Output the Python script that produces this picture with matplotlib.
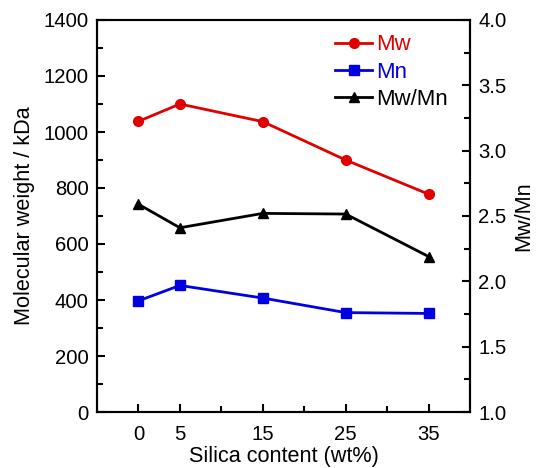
import matplotlib
matplotlib.use("Agg")
import matplotlib.pyplot as plt
from matplotlib.ticker import MultipleLocator, FixedLocator

plt.rcParams['font.family'] = ['Liberation Sans', 'DejaVu Sans']

silica = [0, 5, 15, 25, 35]
mw = [1038, 1100, 1037, 900, 778]
mn = [397, 452, 407, 355, 352]
pdi = [2.59, 2.41, 2.52, 2.515, 2.19]
xtick_labels = ['0', '5', '15', '25', '35']

fs_tick = 14.6
fs_label = 15.6
fs_leg = 15.9
fig = plt.figure(figsize=(5.41, 4.68), dpi=100)
ax = fig.add_axes([97/541, 1 - 412/468, (470-97)/541, (412-20)/468])
ax2 = ax.twinx()

l1, = ax.plot(silica, mw, color='#e00000', marker='o', ms=7, lw=2, label='Mw')
l2, = ax.plot(silica, mn, color='#0000e0', marker='s', ms=7, lw=2, label='Mn')
l3, = ax2.plot(silica, pdi, color='black', marker='^', ms=7, lw=2, label='Mw/Mn')

ax.set_xlim(-5, 40)
ax.set_ylim(0, 1400)
ax2.set_ylim(1.0, 4.0)

ax.xaxis.set_major_locator(FixedLocator(silica))
ax.set_xticklabels(xtick_labels)
ax.xaxis.set_minor_locator(FixedLocator([10, 20, 30]))
ax.yaxis.set_major_locator(MultipleLocator(200))
ax.yaxis.set_minor_locator(MultipleLocator(100))
ax2.yaxis.set_major_locator(MultipleLocator(0.5))
ax2.yaxis.set_minor_locator(MultipleLocator(0.25))
ax2.yaxis.set_major_formatter(matplotlib.ticker.FormatStrFormatter('%.1f'))

for a in (ax, ax2):
    a.tick_params(which='major', direction='in', length=6, width=1.5, labelsize=fs_tick, pad=6)
    a.tick_params(which='minor', direction='in', length=4, width=1.5)
    for s in a.spines.values():
        s.set_linewidth(1.5)
ax.tick_params(axis='y', which='both', right=False)
ax.tick_params(axis='x', which='both', top=False)
ax.tick_params(axis='x', which='major', pad=9)

ax.set_xlabel('Silica content (wt%)', fontsize=fs_label, labelpad=1.5)
ax.set_ylabel('Molecular weight / kDa', fontsize=fs_label, labelpad=6)
ax2.set_ylabel('Mw/Mn', fontsize=fs_label, labelpad=5)

leg = ax.legend(handles=[l1, l2, l3], loc='upper left', bbox_to_anchor=(0.62, 0.98),
                frameon=False, fontsize=fs_leg, handlelength=1.7, handletextpad=0.15,
                labelspacing=0.28, borderaxespad=0.0, borderpad=0.3)
for t, c in zip(leg.get_texts(), ['#e00000', '#0000e0', 'black']):
    t.set_color(c)

fig.savefig('out.png', dpi=100)
